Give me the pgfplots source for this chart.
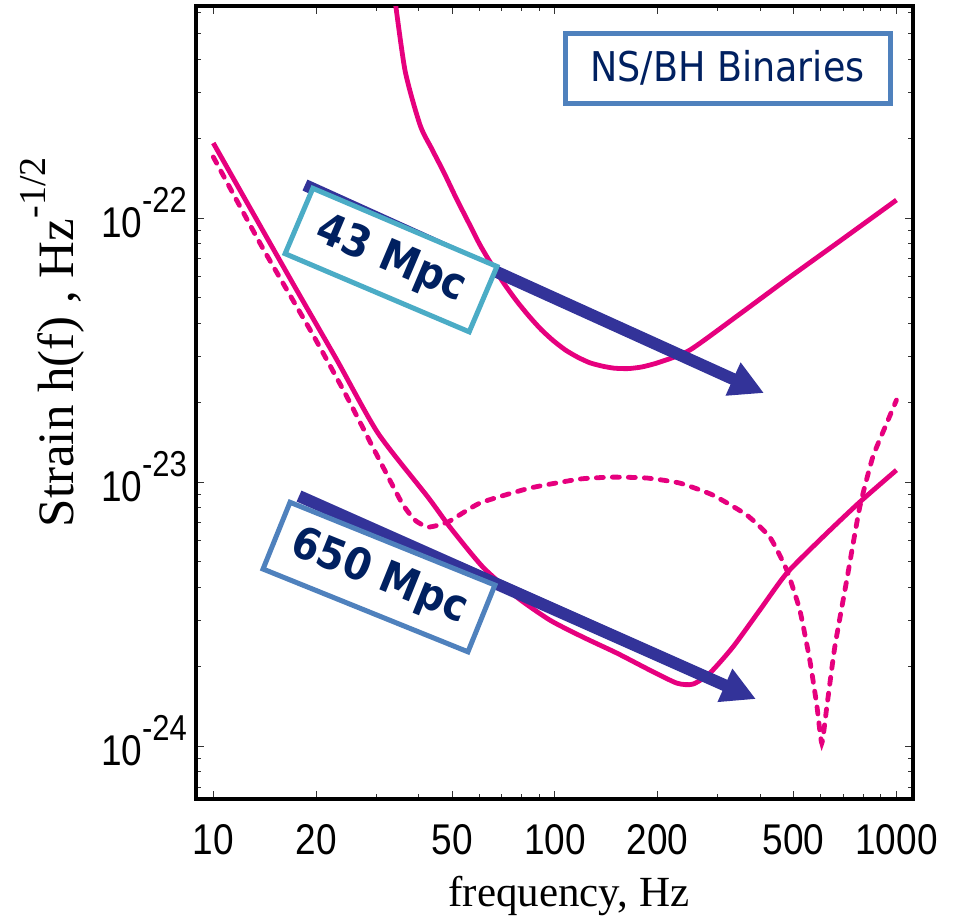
\documentclass[border=0pt]{standalone}
\usepackage{fontspec}
\setmainfont{Liberation Serif}
\newfontfamily\tickfont{Liberation Sans}[FakeStretch=0.86]
\newfontfamily\boxfont{DejaVu Sans}[FakeStretch=0.89]
\usepackage{pgfplots}
\pgfplotsset{compat=1.18}
\usetikzlibrary{arrows.meta}
\definecolor{mag}{RGB}{230,0,126}
\definecolor{navy}{RGB}{0,32,96}
\definecolor{boxblue}{RGB}{79,129,189}
\definecolor{boxcyan}{RGB}{75,172,198}
\definecolor{arrowblue}{RGB}{51,51,153}
\newcommand{\tl}[1]{{\tickfont\fontsize{21.5}{21.5}\selectfont #1}}
\newcommand{\yl}[1]{{\tickfont\fontsize{21.5}{21.5}\selectfont 10\raisebox{12.5pt}{\fontsize{18}{18}\selectfont -#1}}}

\pgfplotstableread{
f h
33.6 7.63e-22
36.4 3.636e-22
40.3 2.25e-22
43.6 1.83e-22
47.3 1.49e-22
51.4 1.19e-22
55.7 9.7e-23
60.4 7.9e-23
65.6 6.6e-23
71.3 5.6e-23
77.3 4.85e-23
84.0 4.25e-23
91.2 3.78e-23
99.0 3.43e-23
107.5 3.16e-23
116.7 2.97e-23
126.6 2.83e-23
137.5 2.75e-23
149.2 2.70e-23
163.6 2.69e-23
180.0 2.73e-23
203.0 2.848e-23
248.4 3.162e-23
347.8 4.33e-23
487.4 5.976e-23
682.7 8.18e-23
1000 1.17e-22
}\initial

\pgfplotstableread{
f h
10 1.924e-22
13.16 1.027e-22
17.34 5.477e-23
23.01 2.898e-23
30.34 1.533e-23
42.5 8.77e-24
49.3 6.75e-24
61.55 4.764e-24
77.4 3.667e-24
96.7 3.0e-24
120.8 2.587e-24
151.9 2.25e-24
189.7 1.94e-24
227.6 1.732e-24
253.5 1.717e-24
284.2 1.89e-24
331.9 2.371e-24
398.1 3.275e-24
477.5 4.52e-24
608.6 6.19e-24
780.9 8.4e-24
1000 1.11e-23
}\advsolid

\pgfplotstableread{
f h
10 1.703e-22
13.9 7.767e-23
19.45 3.667e-23
24.29 2.173e-23
30.34 1.243e-23
35.67 8.327e-24
38.93 7.18e-24
42.5 6.75e-24
48.6 7.055e-24
60.3 8.327e-24
84.5 9.49e-24
118.4 1.027e-23
147.8 1.044e-23
185.9 1.036e-23
232.2 9.91e-24
290.0 8.93e-24
364.7 7.5e-24
425.8 6.19e-24
477.5 4.64e-24
521.2 3.275e-24
557.5 2.117e-24
584.5 1.43e-24
604.5 1.026e-24
625.2 1.405e-24
659.8 2.371e-24
715.3 4.254e-24
780.9 8.04e-24
852.4 1.243e-23
937.0 1.673e-23
1000 2.044e-23
}\advdashed

\begin{document}
\begin{tikzpicture}
\useasboundingbox (-98pt,-60.5pt) rectangle (382.5pt,399.5pt);
\begin{axis}[
  width=358.5pt, height=396.5pt, scale only axis,
  xmode=log, ymode=log,
  xmin=8.9, xmax=1118, ymin=6.30e-25, ymax=6.35e-22,
  xtick={10,20,50,100,200,500,1000},
  xticklabels={\tl{10},\tl{20},\tl{50},\tl{100},\tl{200},\tl{500},\tl{1000}},
  minor xtick={30,40,60,70,80,90,300,400,600,700,800,900},
  ytick={1e-24,1e-23,1e-22},
  yticklabels={\yl{24},\yl{23},\yl{22}},
  minor ytick={2e-24,3e-24,4e-24,5e-24,6e-24,7e-24,8e-24,9e-24,2e-23,3e-23,4e-23,5e-23,6e-23,7e-23,8e-23,9e-23,2e-22,3e-22,4e-22,5e-22,6e-22,7e-25,8e-25,9e-25},
  tick align=inside,
  major tick length=4pt, minor tick length=2.5pt,
  every tick/.style={black!80, line width=0.5pt},
  axis line style={line width=1.6pt},
  xticklabel style={anchor=base, yshift=-27.5pt},
  yticklabel style={anchor=base east, yshift=-9.5pt, xshift=-1pt},
  xlabel={frequency, Hz},
  ylabel={Strain h(f) , Hz\raisebox{14pt}{\fontsize{19}{19}\selectfont -1/2}},
  every axis x label/.style={at={(rel axis cs:0.52,-0.136)}, anchor=base, font=\fontsize{21.5}{21.5}\selectfont},
  every axis y label/.style={at={(rel axis cs:-0.1715,0.576)}, rotate=90, anchor=base, font=\fontsize{25.5}{25.5}\selectfont},
  clip=true,
]
\addplot[mag, line width=2.4pt, smooth, tension=0.4] table[x=f,y=h] {\initial};
\addplot[mag, line width=2.4pt, smooth, tension=0.4] table[x=f,y=h] {\advsolid};
\addplot[mag, line width=2.4pt, smooth, tension=0.3, dash pattern=on 3.5pt off 4.5pt, line cap=round] table[x=f,y=h] {\advdashed};

\draw[arrowblue, line width=6pt, -{Triangle[length=17pt,width=17pt]}]
  (rel axis cs:0.152,0.7743) -- (rel axis cs:0.7922,0.512);
\draw[arrowblue, line width=6pt, -{Triangle[length=17pt,width=17pt]}]
  (rel axis cs:0.1437,0.3821) -- (rel axis cs:0.781,0.1261);

\node[draw=boxcyan, line width=2.5pt, fill=white, rotate=-23, minimum width=100pt, minimum height=35.5pt, inner sep=0pt, text=navy, font=\boxfont\bfseries\fontsize{22}{22}\selectfont]
  at (rel axis cs:0.272,0.6797) {43 Mpc};
\node[draw=boxblue, line width=2.5pt, fill=white, rotate=-22, minimum width=110.5pt, minimum height=36pt, inner sep=0pt, text=navy, font=\boxfont\bfseries\fontsize{22}{22}\selectfont]
  at (rel axis cs:0.2552,0.2800) {650 Mpc};
\node[draw=boxblue, line width=2.5pt, fill=white, minimum width=162.5pt, minimum height=35pt, inner sep=0pt, text=navy, font=\boxfont\fontsize{20.5}{20.5}\selectfont]
  at (rel axis cs:0.7413,0.9218) {NS/BH Binaries};
\end{axis}
\end{tikzpicture}
\end{document}
